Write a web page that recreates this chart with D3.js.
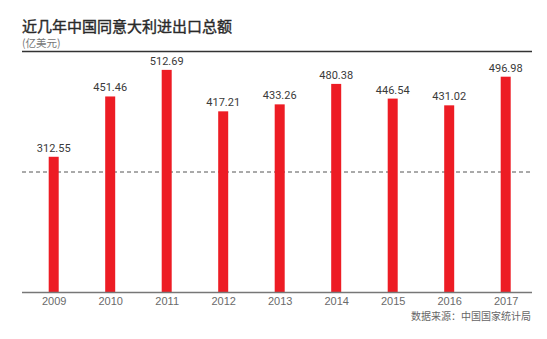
<!DOCTYPE html>
<html>
<head>
<meta charset="utf-8">
<script src="https://cdn.jsdelivr.net/npm/d3@7"></script>
<style>
  html, body { margin: 0; padding: 0; background: #fff; }
  svg { display: block; }
</style>
</head>
<body>
<svg id="chart" width="547" height="339"></svg>
<script>
// 近几年中国同意大利进出口总额（亿美元）
const years = ["2009", "2010", "2011", "2012", "2013", "2014", "2015", "2016", "2017"];
const tradeTotals = [312.55, 451.46, 512.69, 417.21, 433.26, 480.38, 446.54, 431.02, 496.98];
const yMax = 555;
const midLine = [277.5];

const titleText = "近几年中国同意大利进出口总额";
const unitText = "(亿美元)";
const sourceText = "数据来源：中国国家统计局";

const svg = d3.select("#chart");
const plotLeft = 22, plotRight = 532, plotTop = 51.5, plotBottom = 292.5;

const x = d3.scalePoint().domain(years).range([53.7, 505.7]);
const y = d3.scaleLinear().domain([0, yMax]).range([plotBottom, plotTop]);
const barW = 10;

const cjk = "'Noto Sans CJK SC', 'Noto Sans', sans-serif";

// title: regular face thickened slightly with a thin outline for a medium weight
svg.append("text")
  .attr("x", plotLeft).attr("y", 31.5)
  .attr("font-family", cjk)
  .attr("font-size", 15).attr("font-weight", 400)
  .attr("fill", "#2a2a2a")
  .attr("stroke", "#2a2a2a").attr("stroke-width", 0.4)
  .text(titleText);

svg.append("text")
  .attr("x", plotLeft).attr("y", 47)
  .attr("font-family", cjk).attr("font-size", 10.5)
  .attr("fill", "#777").text(unitText);

// top rule
svg.append("line")
  .attr("x1", plotLeft).attr("x2", plotRight).attr("y1", plotTop).attr("y2", plotTop)
  .attr("stroke", "#333").attr("stroke-width", 1.3);

// dashed reference line
svg.selectAll("line.mid").data(midLine).join("line")
  .attr("class", "mid")
  .attr("x1", plotLeft).attr("x2", plotRight)
  .attr("y1", d => y(d)).attr("y2", d => y(d))
  .attr("stroke", "#555").attr("stroke-width", 1)
  .attr("stroke-dasharray", "4,3");

// bars
svg.selectAll("rect.bar").data(years).join("rect")
  .attr("class", "bar")
  .attr("x", d => x(d) - barW / 2)
  .attr("width", barW)
  .attr("y", (d, i) => y(tradeTotals[i]))
  .attr("height", (d, i) => y(0) - y(tradeTotals[i]))
  .attr("fill", "#ed1c24");

// value labels
svg.selectAll("text.val").data(years).join("text")
  .attr("class", "val")
  .attr("x", d => x(d))
  .attr("y", (d, i) => y(tradeTotals[i]) - 5)
  .attr("text-anchor", "middle")
  .attr("font-family", "Roboto, 'Liberation Sans', sans-serif")
  .attr("font-size", 11)
  .attr("fill", "#3a3a3a")
  .text((d, i) => tradeTotals[i].toFixed(2));

// x axis
const xAxis = svg.append("g")
  .attr("transform", `translate(0,${plotBottom})`)
  .call(d3.axisBottom(x).tickSize(0).tickPadding(5));
xAxis.select(".domain").remove();
xAxis.append("line")
  .attr("x1", plotLeft).attr("x2", plotRight)
  .attr("stroke", "#777").attr("stroke-width", 1.5);
xAxis.selectAll(".tick text")
  .attr("font-family", "'Liberation Sans', Arial, sans-serif")
  .attr("font-size", 11)
  .attr("fill", "#6a6a6a");

svg.append("text")
  .attr("x", 531).attr("y", 319.5)
  .attr("text-anchor", "end")
  .attr("font-family", cjk).attr("font-size", 10)
  .attr("fill", "#666").text(sourceText);
</script>
</body>
</html>
